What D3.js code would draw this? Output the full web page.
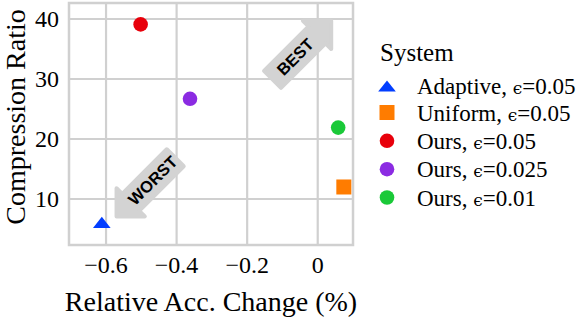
<!DOCTYPE html>
<html>
<head>
<meta charset="utf-8">
<script src="https://cdn.jsdelivr.net/npm/d3@7"></script>
<style>
  html, body { margin: 0; padding: 0; background: #fff; }
  svg text { font-family: "Liberation Serif", "Times New Roman", serif; fill: #000; }
</style>
</head>
<body>
<div id="chart"></div>
<script>
// data
const systems = ["Adaptive", "Uniform", "Ours", "Ours", "Ours"];
const epsilons = ["0.05", "0.05", "0.05", "0.025", "0.01"];
const accChange = [-0.612, 0.074, -0.502, -0.362, 0.058];
const compRatio = [6.1, 12.0, 39.1, 26.7, 21.9];
const shapes = ["triangle", "square", "circle", "circle", "circle"];
const colors = ["#023eff", "#ff7c00", "#e8000b", "#8b2be2", "#1ac938"];

const xTicks = [-0.6, -0.4, -0.2, 0];
const yTicks = [10, 20, 30, 40];

// annotation arrows: label, anchor (data coords), pointing direction in degrees (screen)
const notes = ["BEST", "WORST"];
const noteX = [-0.064, -0.468];
const noteY = [33.7, 13.1];
const noteDir = [-45, 135];

const width = 576, height = 324;
const margin = { left: 69, right: 223, top: 3, bottom: 79 };
const gridColor = "#d0d0d0";

const svg = d3.select("#chart").append("svg")
  .attr("width", width)
  .attr("height", height);

const x = d3.scaleLinear()
  .domain([-0.705, 0.1])
  .range([margin.left, width - margin.right]);

const y = d3.scaleLinear()
  .domain([2.33, 42.67])
  .range([height - margin.bottom, margin.top]);

// grid
const grid = svg.append("g");
grid.selectAll("line.vx")
  .data(xTicks)
  .join("line")
  .attr("x1", d => x(d)).attr("x2", d => x(d))
  .attr("y1", y.range()[0]).attr("y2", y.range()[1])
  .attr("stroke", gridColor).attr("stroke-width", 2.2);
grid.selectAll("line.hy")
  .data(yTicks)
  .join("line")
  .attr("x1", x.range()[0]).attr("x2", x.range()[1])
  .attr("y1", d => y(d)).attr("y2", d => y(d))
  .attr("stroke", gridColor).attr("stroke-width", 2.2);

// frame
svg.append("rect")
  .attr("x", x.range()[0]).attr("y", y.range()[1])
  .attr("width", x.range()[1] - x.range()[0])
  .attr("height", y.range()[0] - y.range()[1])
  .attr("fill", "none")
  .attr("stroke", gridColor).attr("stroke-width", 2.5);

// tick labels
const fmt = d => d === 0 ? "0" : d3.format(".1f")(d).replace("-", "\u2212");
svg.append("g").selectAll("text")
  .data(xTicks)
  .join("text")
  .attr("x", d => x(d))
  .attr("y", 273)
  .attr("text-anchor", "middle")
  .style("font-size", "24px")
  .text(fmt);

svg.append("g").selectAll("text")
  .data(yTicks)
  .join("text")
  .attr("x", 59)
  .attr("y", d => y(d))
  .attr("dy", "0.35em")
  .attr("text-anchor", "end")
  .style("font-size", "24px")
  .text(d => d);

// axis titles
svg.append("text")
  .attr("x", (x.range()[0] + x.range()[1]) / 2)
  .attr("y", 311)
  .attr("text-anchor", "middle")
  .style("font-size", "28px")
  .text("Relative Acc. Change (%)");

svg.append("text")
  .attr("transform", "translate(25,117) rotate(-90)")
  .attr("text-anchor", "middle")
  .style("font-size", "28px")
  .text("Compression Ratio");

// arrow shaped boxes (tip along +x in local coords)
function arrowShape(tail, tip, body, head, headLen) {
  const neck = tip - headLen;
  return `M${tail},${-body} L${neck},${-body} L${neck},${-head} L${tip},0 L${neck},${head} L${neck},${body} L${tail},${body} Z`;
}

const arrows = svg.append("g").selectAll("g")
  .data(notes)
  .join("g")
  .attr("transform", (d, i) => `translate(${x(noteX[i])},${y(noteY[i])})`);

arrows.append("path")
  .attr("d", arrowShape(-32, 51, 12, 20, 20))
  .attr("transform", (d, i) => `rotate(${noteDir[i]})`)
  .attr("fill", "#d3d3d3")
  .attr("stroke", "#d3d3d3")
  .attr("stroke-width", 4)
  .attr("stroke-linejoin", "round");

arrows.append("text")
  .attr("transform", "rotate(-45)")
  .attr("text-anchor", "middle")
  .attr("dy", "0.36em")
  .style("font-family", "'Liberation Sans', Arial, sans-serif")
  .style("font-weight", "bold")
  .style("font-size", "16.5px")
  .text(d => d);

// marker symbols
function marker(sel, shape, color) {
  if (shape === "circle") {
    sel.append("circle").attr("r", 7.3).attr("fill", color);
  } else if (shape === "square") {
    sel.append("rect").attr("x", -7.5).attr("y", -7.5)
      .attr("width", 15).attr("height", 15).attr("fill", color);
  } else {
    sel.append("path").attr("d", "M0,-5.6 L8.8,5.6 L-8.8,5.6 Z").attr("fill", color);
  }
}

svg.append("g").selectAll("g")
  .data(systems)
  .join("g")
  .attr("transform", (d, i) => `translate(${x(accChange[i])},${y(compRatio[i])})`)
  .each(function(d, i) { marker(d3.select(this), shapes[i], colors[i]); });

// legend
const legend = svg.append("g");
legend.append("text")
  .attr("x", 380).attr("y", 61)
  .style("font-size", "25px")
  .text("System");

const rowY = [86, 112.5, 140.8, 169.2, 197.5];
const rows = legend.selectAll("g.row")
  .data(systems)
  .join("g")
  .attr("class", "row")
  .attr("transform", (d, i) => `translate(387,${rowY[i]})`);

rows.each(function(d, i) { marker(d3.select(this), shapes[i], colors[i]); });
const labels = rows.append("text")
  .attr("x", 30)
  .attr("y", 8)
  .style("font-size", "23px");
labels.append("tspan").text(d => d + ", ");
labels.append("tspan")
  .style("font-family", "'DejaVu Serif', serif")
  .style("font-size", "17px")
  .text("\u03f5");
labels.append("tspan").text((d, i) => "=" + epsilons[i]);
</script>
</body>
</html>
